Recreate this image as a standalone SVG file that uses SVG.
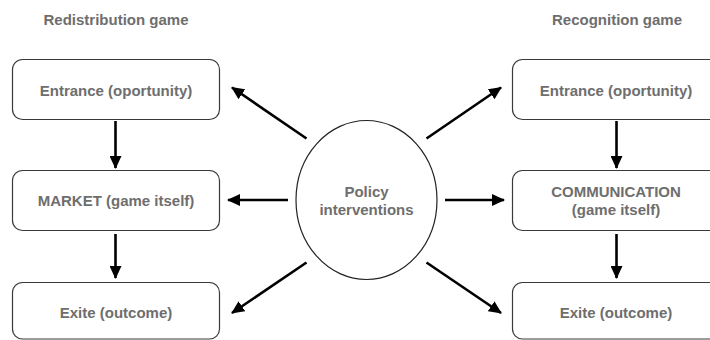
<svg xmlns="http://www.w3.org/2000/svg" width="710" height="340" viewBox="0 0 710 340">
  <defs>
    <marker id="arrow" markerUnits="userSpaceOnUse" markerWidth="14" markerHeight="12" refX="12" refY="6" orient="auto">
      <path d="M0,0 L13,6 L0,12 Z" fill="#000"/>
    </marker>
    <style>
      .box { fill: #fff; stroke: #3a3a3a; stroke-width: 1.2; }
      .lbl { font-family: "Liberation Sans", Arial, sans-serif; font-weight: bold; font-size: 15px; fill: #6e6e6e; text-anchor: middle; }
      .conn { stroke: #000; stroke-width: 2.6; fill: none; marker-end: url(#arrow); }
    </style>
  </defs>
  <rect width="710" height="340" fill="#fff"/>

  <!-- column headings -->
  <text class="lbl" x="116" y="25">Redistribution game</text>
  <text class="lbl" x="617" y="25">Recognition game</text>

  <!-- redistribution column -->
  <g id="redis-entrance">
    <rect class="box" x="12.5" y="59.5" width="207" height="60" rx="10"/>
    <text class="lbl" x="116" y="96">Entrance (oportunity)</text>
  </g>
  <g id="redis-market">
    <rect class="box" x="12.5" y="170.5" width="207" height="60" rx="10"/>
    <text class="lbl" x="116" y="206">MARKET (game itself)</text>
  </g>
  <g id="redis-exit">
    <rect class="box" x="12.5" y="282.5" width="207" height="56.5" rx="10"/>
    <text class="lbl" x="116" y="318">Exite (outcome)</text>
  </g>

  <!-- recognition column -->
  <g id="recog-entrance">
    <rect class="box" x="512.5" y="59.5" width="208" height="60" rx="10"/>
    <text class="lbl" x="616" y="96">Entrance (oportunity)</text>
  </g>
  <g id="recog-communication">
    <rect class="box" x="512.5" y="170.5" width="208" height="60" rx="10"/>
    <text class="lbl" x="616" y="196.5">COMMUNICATION</text>
    <text class="lbl" x="616" y="215">(game itself)</text>
  </g>
  <g id="recog-exit">
    <rect class="box" x="512.5" y="282.5" width="208" height="56.5" rx="10"/>
    <text class="lbl" x="616" y="318">Exite (outcome)</text>
  </g>

  <!-- central node -->
  <g id="policy">
    <ellipse cx="366.5" cy="200" rx="70.5" ry="79.5" fill="#fff" stroke="#222" stroke-width="1.2"/>
    <text class="lbl" x="366.5" y="197">Policy</text>
    <text class="lbl" x="366.5" y="215">interventions</text>
  </g>

  <!-- connectors -->
  <g id="connectors">
    <line class="conn" x1="115.5" y1="121" x2="115.5" y2="168"/>
    <line class="conn" x1="115.5" y1="234" x2="115.5" y2="278"/>
    <line class="conn" x1="616.5" y1="121" x2="616.5" y2="168"/>
    <line class="conn" x1="616.5" y1="234" x2="616.5" y2="278"/>

    <line class="conn" x1="306.5" y1="138.5" x2="232" y2="87.5"/>
    <line class="conn" x1="288" y1="200" x2="228" y2="200"/>
    <line class="conn" x1="306.5" y1="262.5" x2="232" y2="313"/>
    <line class="conn" x1="426.5" y1="138.5" x2="501" y2="87.5"/>
    <line class="conn" x1="445" y1="200" x2="504" y2="200"/>
    <line class="conn" x1="426.5" y1="262.5" x2="501" y2="313"/>
  </g>
</svg>
